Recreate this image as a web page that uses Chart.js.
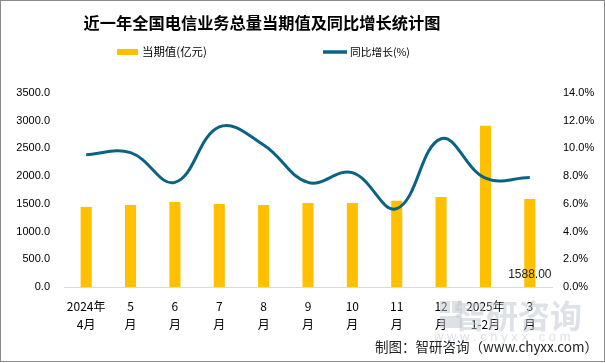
<!DOCTYPE html>
<html><head><meta charset="utf-8">
<script src="https://cdn.jsdelivr.net/npm/chart.js@4"></script>
<style>html,body{margin:0;padding:0;background:#fff}#wrap{width:605px;height:363px;position:relative}</style>
</head><body><div id="wrap"><canvas id="c" width="605" height="363"></canvas></div>
<script>
const categories = [['2024年','4月'],['5','月'],['6','月'],['7','月'],['8','月'],['9','月'],['10','月'],['11','月'],['12','月'],['2025年','1-2月'],['3','月']];
const currentValues = [1445, 1480, 1535, 1497, 1480, 1515, 1515, 1557, 1624, 2910, 1588];
const yoyGrowth = [9.55, 9.7, 7.55, 11.55, 10.25, 7.55, 8.25, 5.65, 10.7, 7.85, 7.9];
const leftTicks = [0,500,1000,1500,2000,2500,3000,3500];
const rightTicks = [0,2,4,6,8,10,12,14];
const titleText = '近一年全国电信业务总量当期值及同比增长统计图';
const barLabel = '当期值(亿元)';
const lineLabel = '同比增长(%)';
const sourceText = '制图：智研咨询（www.chyxx.com）';

const NUM = '"Liberation Sans", "DejaVu Sans", sans-serif';
const CJK = '"Noto Sans CJK SC", "Liberation Sans", sans-serif';
const BAR_COLOR = '#FFC000';
const LINE_COLOR = '#0B6384';

function fitFont(ctx, text, weight, size, family, maxW) {
  ctx.font = weight + ' ' + size + 'px ' + family;
  const w = ctx.measureText(text).width;
  if (w > maxW) { size = size * maxW / w; ctx.font = weight + ' ' + size + 'px ' + family; }
  return w;
}

const deco = {
  id: 'deco',
  beforeDatasetsDraw(chart) {
    const ctx = chart.ctx;
    ctx.save();
    ctx.fillStyle = 'rgba(190,198,206,0.5)';
    ctx.fillRect(440, 301, 10, 12);
    ctx.fillRect(452, 301, 10, 12);
    ctx.fillRect(440, 316, 22, 12);
    ctx.textAlign = 'left'; ctx.textBaseline = 'middle';
    fitFont(ctx, '智研咨询', 'bold', 32, CJK, 134);
    ctx.fillText('智研咨询', 454, 316);
    ctx.font = '13px ' + NUM;
    ctx.fillText('w w w . c h y x x . c o m', 434, 337);
    ctx.restore();
  },
  afterDraw(chart) {
    const ctx = chart.ctx;
    ctx.save();
    ctx.fillStyle = '#000';
    ctx.textAlign = 'center'; ctx.textBaseline = 'middle';
    fitFont(ctx, titleText, 'bold', 20, CJK, 357);
    ctx.fillText(titleText, 262, 23);
    // legend
    ctx.textAlign = 'left';
    fitFont(ctx, barLabel, 'normal', 13, CJK, 65);
    ctx.fillStyle = BAR_COLOR;
    ctx.fillRect(117, 49, 21, 6);
    ctx.fillStyle = '#000';
    ctx.fillText(barLabel, 142, 52);
    ctx.strokeStyle = LINE_COLOR; ctx.lineWidth = 3.5;
    ctx.beginPath(); ctx.moveTo(323, 52); ctx.lineTo(347, 52); ctx.stroke();
    fitFont(ctx, lineLabel, 'normal', 13, CJK, 60);
    ctx.fillStyle = '#000';
    ctx.fillText(lineLabel, 350, 52);
    // data label on last bar
    const meta = chart.getDatasetMeta(1);
    const last = meta.data[meta.data.length - 1];
    ctx.font = '12px ' + NUM;
    ctx.fillStyle = '#222';
    ctx.textAlign = 'center';
    ctx.fillText(currentValues[currentValues.length - 1].toFixed(2), last.x, 275);
    // source
    ctx.textAlign = 'right';
    ctx.font = '13.5px ' + CJK;
    ctx.fillStyle = '#222';
    ctx.fillText(sourceText, 598, 347);
    // border
    ctx.strokeStyle = '#8c8c8c'; ctx.lineWidth = 1;
    ctx.strokeRect(0.5, 0.5, 604, 361);
    ctx.restore();
  }
};

new Chart(document.getElementById('c'), {
  data: {
    labels: categories,
    datasets: [
      { type: 'line', label: lineLabel, data: yoyGrowth, yAxisID: 'y1', borderColor: LINE_COLOR, borderWidth: 3, tension: 0.4, pointRadius: 0, fill: false, order: 0 },
      { type: 'bar', label: barLabel, data: currentValues, yAxisID: 'y', backgroundColor: BAR_COLOR, barPercentage: 0.25, categoryPercentage: 1, order: 1 }
    ]
  },
  options: {
    responsive: false, animation: false, devicePixelRatio: 1,
    layout: { padding: { top: 93, left: 0, right: 0, bottom: 0 } },
    plugins: { legend: { display: false }, title: { display: false }, tooltip: { enabled: false } },
    scales: {
      x: {
        grid: { display: false, drawTicks: false },
        border: { display: true, color: '#d9d9d9', width: 1 },
        ticks: { color: '#000', font: { size: 12, family: CJK, lineHeight: 1.45 }, padding: 11, maxRotation: 0, autoSkip: false },
        afterFit(s) { s.height = 76; }
      },
      y: {
        position: 'left', min: 0, max: 3500,
        afterBuildTicks(s) { s.ticks = leftTicks.map(v => ({ value: v })); },
        grid: { display: false, drawTicks: false },
        border: { display: false },
        ticks: { color: '#000', font: { size: 11, family: NUM }, padding: 14, callback: v => v.toFixed(1) },
        afterFit(s) { s.width = 64; }
      },
      y1: {
        position: 'right', min: 0, max: 14,
        afterBuildTicks(s) { s.ticks = rightTicks.map(v => ({ value: v })); },
        grid: { display: false, drawTicks: false },
        border: { display: false },
        ticks: { color: '#000', font: { size: 11, family: NUM }, padding: 11, callback: v => v.toFixed(1) + '%' },
        afterFit(s) { s.width = 53; }
      }
    }
  },
  plugins: [deco]
});
</script></body></html>
